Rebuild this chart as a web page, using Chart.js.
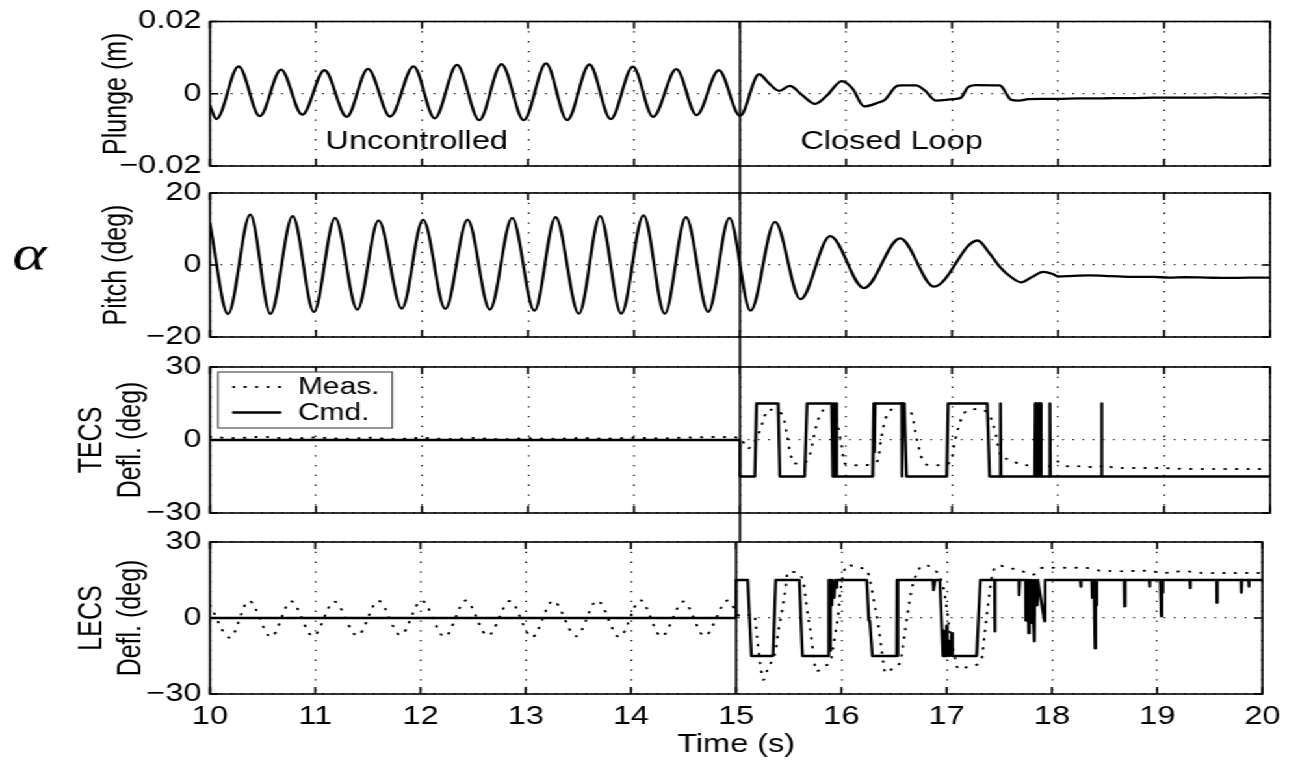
<!DOCTYPE html>
<html>
<head>
<meta charset="utf-8">
<title>Flutter suppression: uncontrolled vs closed loop</title>
<script src="https://cdn.jsdelivr.net/npm/chart.js@4.4.1/dist/chart.umd.min.js"></script>
<style>
  html, body { margin: 0; padding: 0; background: #fff; overflow: hidden; }
  #stage { position: absolute; left: 0; top: 0; width: 993px; height: 761px;
           transform: scaleX(1.3); transform-origin: 0 0; background: #fff; }
  #stage canvas { position: absolute; left: 0; top: 0; }
</style>
</head>
<body>
<div id="stage">
  <canvas id="plunge" width="993" height="761"></canvas>
  <canvas id="pitch" width="993" height="761"></canvas>
  <canvas id="tecs" width="993" height="761"></canvas>
  <canvas id="lecs" width="993" height="761"></canvas>
</div>
<script>
// ---------------- data ----------------
const timeTicks = [10, 11, 12, 13, 14, 15, 16, 17, 18, 19, 20];
const plungeTicks = [-0.02, 0, 0.02];
const pitchTicks = [-20, 0, 20];
const deflTicks = [-30, 0, 30];
const switchTime = 15;   // controller switched on

// plunge (m)
const plungeTime = [10.00, 10.06, 10.27, 10.47, 10.67, 10.87, 11.08, 11.29, 11.49, 11.70,
  11.92, 12.12, 12.33, 12.54, 12.75, 12.96, 13.17, 13.37, 13.58, 13.78, 13.99, 14.18,
  14.40, 14.59, 14.80, 15.00, 15.18, 15.27, 15.37, 15.47, 15.58, 15.71, 15.82, 15.96,
  16.06, 16.17, 16.30, 16.37, 16.47, 16.52, 16.66, 16.74, 16.85, 17.01, 17.08, 17.15,
  17.22, 17.45, 17.56, 17.63, 17.72, 17.85, 18.00, 18.20, 18.40, 18.53, 18.70, 18.90,
  19.07, 19.30, 19.50, 19.70, 19.90, 20.00];
const plungeValue = [-0.0033, -0.0070, 0.0076, -0.0062, 0.0067, -0.0058, 0.0065, -0.0064, 0.0069, -0.0063,
  0.0076, -0.0068, 0.0080, -0.0073, 0.0082, -0.0073, 0.0084, -0.0073, 0.0081, -0.0070, 0.0075, -0.0064,
  0.0068, -0.0059, 0.0065, -0.0061, 0.0054, 0.0030, 0.0008, 0.0022, -0.0002, -0.0028, -0.0005, 0.0035,
  0.0015, -0.0035, -0.0025, -0.0016, 0.0020, 0.0023, 0.0023, 0.0010, -0.0019, -0.0015, -0.0012, 0.0018,
  0.0024, 0.0023, -0.0017, -0.0019, -0.0015, -0.0014, -0.0014, -0.0013, -0.0013, -0.0012, -0.0012, -0.0011,
  -0.0011, -0.0011, -0.0010, -0.0011, -0.0010, -0.0011];

// pitch (deg)
const pitchTime = [10.00, 10.17, 10.38, 10.57, 10.78, 10.98, 11.18, 11.39, 11.59, 11.81,
  12.01, 12.22, 12.43, 12.64, 12.85, 13.06, 13.26, 13.48, 13.68, 13.88, 14.09, 14.29,
  14.49, 14.70, 14.90, 15.10, 15.33, 15.57, 15.85, 16.17, 16.51, 16.83, 17.24, 17.36,
  17.45, 17.55, 17.65, 17.75, 17.86, 17.95, 18.00, 18.15, 18.30, 18.50, 18.70, 18.90,
  19.05, 19.20, 19.40, 19.60, 19.80, 20.00];
const pitchValue = [11.5, -13.6, 14.0, -13.6, 13.6, -13.0, 13.1, -12.4, 12.4, -12.1,
  12.6, -12.2, 12.6, -12.4, 13.1, -12.7, 13.3, -13.5, 13.6, -13.5, 13.8, -13.5,
  13.3, -13.0, 13.1, -12.7, 12.0, -9.5, 8.0, -6.4, 7.4, -6.0, 6.8, 3.0,
  -0.5, -3.2, -4.8, -3.4, -1.9, -2.5, -3.2, -3.0, -2.9, -3.1, -3.3, -3.3,
  -3.5, -3.4, -3.5, -3.6, -3.5, -3.5];

// trailing-edge control surface (deg)
const tecsCmdTime = [10.00, 15.00, 15.00, 15.14, 15.156, 15.36, 15.376, 15.61, 15.632, 15.865,
  15.875, 15.885, 15.895, 15.905, 15.912, 16.252, 16.262, 16.268, 16.275, 16.525, 16.528, 16.532,
  16.55, 16.57, 16.95, 16.963, 17.332, 17.354, 17.455, 17.457, 17.462, 17.78, 17.785, 17.79,
  17.80, 17.805, 17.82, 17.826, 17.835, 17.84, 17.92, 17.923, 17.928, 18.408, 18.41, 18.415, 20.00];
const tecsCmdValue = [0, 0, -15, -15, 15, 15, -15, -15, 15, 15,
  -15, 15, -15, 15, -15, -15, 15, -5, 15, 15, -15, 15,
  15, -15, -15, 15, 15, -15, -15, 15, -15, -15, 15, -15,
  15, -15, 15, -15, 15, -15, -15, 15, -15, -15, 15, -15, -15];
const tecsMeasTime = [10.00, 10.25, 10.50, 10.75, 11.00, 11.25, 11.50, 11.75, 12.00, 12.25,
  12.50, 12.75, 13.00, 13.25, 13.50, 13.75, 14.00, 14.25, 14.50, 14.75, 15.00, 15.07, 15.13,
  15.18, 15.22, 15.26, 15.40, 15.44, 15.47, 15.51, 15.58, 15.66, 15.69, 15.73, 15.80, 15.89,
  15.95, 15.99, 16.06, 16.14, 16.30, 16.33, 16.37, 16.45, 16.61, 16.67, 16.72, 16.80, 16.90,
  16.99, 17.03, 17.09, 17.16, 17.25, 17.36, 17.41, 17.44, 17.48, 17.54, 17.63, 17.72, 17.95,
  18.00, 18.09, 18.20, 18.30, 18.39, 18.44, 18.53, 18.80, 19.00, 19.30, 19.70, 20.00];
const tecsMeasValue = [1.2, 0.8, 1.3, 0.6, 1.0, 0.5, 0.9, 0.4, 0.9, 0.4,
  0.8, 0.3, 0.7, 0.5, 0.8, 0.6, 0.9, 0.7, 1.0, 1.2, 1.0, -3.6, -1.0,
  3.0, 8.0, 12.5, 10.5, 3.0, -4.5, -9.7, -9.7, -6.0, 0.0, 7.5, 12.5, 10.8,
  0.0, -9.7, -10.4, -10.4, -8.5, 0.0, 8.5, 12.7, 11.5, 0.0, -8.0, -10.4, -10.4,
  -8.5, 0.0, 9.0, 12.5, 12.7, 9.5, 3.0, -3.6, -7.7, -7.7, -9.9, -10.4, -10.8,
  -8.8, -10.8, -10.8, -11.1, -11.1, -10.0, -11.5, -11.5, -11.6, -11.9, -11.9, -11.9];

// leading-edge control surface (deg)
const lecsCmdTime = [10.00, 15.00, 15.00, 15.11, 15.145, 15.35, 15.376, 15.60, 15.63, 15.874,
  15.88, 15.89, 15.895, 15.905, 15.91, 15.93, 15.94, 15.956, 15.96, 16.241, 16.26, 16.27,
  16.294, 16.525, 16.528, 16.532, 16.54, 16.87, 16.875, 16.885, 16.89, 16.935, 16.965, 16.97,
  16.975, 16.98, 16.99, 17.00, 17.005, 17.02, 17.03, 17.05, 17.055, 17.285, 17.32, 17.455,
  17.457, 17.46, 17.685, 17.688, 17.695, 17.75, 17.752, 17.758, 17.765, 17.77, 17.78, 17.785,
  17.80, 17.81, 17.833, 17.838, 17.86, 17.865, 17.93, 17.935, 18.27, 18.272, 18.28, 18.38,
  18.383, 18.39, 18.40, 18.41, 18.415, 18.42, 18.423, 18.43, 18.687, 18.69, 18.695, 18.925,
  18.928, 18.932, 19.03, 19.039, 19.045, 19.05, 19.055, 19.31, 19.312, 19.318, 19.566, 19.568,
  19.572, 19.797, 19.80, 19.805, 19.868, 19.87, 19.875, 20.00];
const lecsCmdValue = [0, 0, 15, 15, -15, -15, 15, 15, -15, -15,
  15, -13, 15, 5, 15, 8, 15, 12, 15, 15, -1, -1,
  -15, -15, 15, -15, 15, 15, 11, 11, 15, 15, -15, -5,
  -15, -8, -15, -3, -15, -9, -15, -6, -15, -15, 15, 15,
  -5.3, 15, 15, 9, 15, 15, -1, 15, 3, 15, -6, 15,
  -2, 15, -9.2, 15, 5, 15, -1.3, 15, 15, 12.4, 15, 15,
  8, 15, 15, -12, 15, 15, 5, 15, 15, 4.6, 15, 15,
  12.4, 15, 15, 0.7, 15, 10, 15, 15, 11.8, 15, 15, 6,
  15, 15, 10, 15, 15, 12.4, 15, 15];
const lecsMeasTime = [10.00, 10.19, 10.37, 10.58, 10.77, 10.98, 11.18, 11.40, 11.60, 11.81,
  12.01, 12.23, 12.43, 12.64, 12.85, 13.06, 13.26, 13.48, 13.68, 13.89, 14.09, 14.29,
  14.50, 14.70, 14.92, 15.04, 15.17, 15.20, 15.23, 15.26, 15.30, 15.38, 15.40, 15.43,
  15.45, 15.47, 15.49, 15.56, 15.64, 15.66, 15.69, 15.71, 15.74, 15.76, 15.83, 15.90,
  15.92, 15.94, 15.97, 15.99, 16.03, 16.06, 16.15, 16.24, 16.28, 16.31, 16.35, 16.38,
  16.42, 16.49, 16.56, 16.60, 16.63, 16.67, 16.72, 16.77, 16.90, 16.97, 17.00, 17.02,
  17.04, 17.08, 17.11, 17.22, 17.33, 17.36, 17.39, 17.43, 17.50, 17.57, 17.68, 17.82,
  17.91, 18.04, 18.18, 18.32, 18.46, 18.71, 18.89, 19.07, 19.25, 19.43, 19.67, 20.00];
const lecsMeasValue = [5.0, -7.8, 6.8, -7.5, 6.6, -7.2, 6.5, -7.0, 6.8, -6.8,
  6.9, -7.4, 6.9, -7.0, 6.7, -7.6, 6.8, -7.2, 6.9, -7.5, 7.0, -7.3,
  6.5, -7.1, 6.9, 0.7, 1.5, -8.0, -18.5, -24.4, -20.0, -11.9, -5.3, 1.3,
  6.6, 11.9, 18.2, 18.1, 13.8, 7.9, -1.3, -6.0, -16.5, -21.1, -19.1, -16.5,
  -11.9, -6.6, 1.3, 10.5, 19.1, 21.1, 19.8, 19.1, 13.2, 6.6, -2.6, -11.9,
  -21.8, -19.8, -17.1, -6.6, 2.0, 11.9, 17.8, 20.8, 18.5, 11.9, 4.0, -2.6,
  -7.9, -15.8, -20.2, -19.1, -16.5, -6.6, 4.0, 16.5, 20.8, 19.8, 19.1, 17.1,
  19.8, 19.8, 19.8, 19.8, 18.7, 18.5, 18.7, 17.8, 18.5, 17.8, 17.8, 17.8];

const phaseLabels = ['Uncontrolled', 'Closed Loop'];

// ---------------- layout ----------------
const SX = 1.3;                 // horizontal stretch applied to the stage
const W = 993, H = 761;         // logical canvas size
const plotLeft = 161.5, plotRight = 977;
const panels = {
  plunge: { top: 16,  bottom: 166 },
  pitch:  { top: 193, bottom: 337 },
  tecs:   { top: 367, bottom: 513 },
  lecs:   { top: 542, bottom: 694 }
};
const order = ['plunge', 'pitch', 'tecs', 'lecs'];
const phaseLabelAt = [{ t: 11.95, v: -0.0152 }, { t: 16.43, v: -0.0152 }];

const FONT = "'Liberation Sans', Arial, Helvetica, sans-serif";
Chart.defaults.font.family = FONT;
Chart.defaults.color = '#000';

const pts = (t, v) => t.map((x, i) => ({ x, y: v[i] }));

const solid = (label, data, smooth) => ({
  label, data, borderColor: '#000', borderWidth: 2.3, pointRadius: 0,
  tension: 0, cubicInterpolationMode: smooth ? 'monotone' : 'default',
  borderJoinStyle: 'round', borderCapStyle: 'round', fill: false
});
const dotted = (label, data) => ({
  label, data, borderColor: '#000', borderWidth: 2.0, pointRadius: 0,
  tension: 0, cubicInterpolationMode: 'monotone',
  borderDash: [0.6, 8.2], borderCapStyle: 'round', fill: false
});

// frame box, inward tick marks and the switch-time line
const framePlugin = {
  id: 'frame',
  afterDatasetsDraw(chart, args, opts) {
    const { ctx, chartArea: a, scales: { x } } = chart;
    const px = x.getPixelForValue(switchTime);
    ctx.save();
    ctx.strokeStyle = '#000';
    ctx.lineWidth = 1.8;
    ctx.beginPath();
    ctx.moveTo(px, a.top);
    ctx.lineTo(px, opts.lineEnd);
    ctx.stroke();
    ctx.restore();
  },
  afterDraw(chart) {
    const { ctx, chartArea: a, scales: { x, y } } = chart;
    ctx.save();
    ctx.strokeStyle = '#000';
    ctx.lineWidth = 1.6;
    ctx.strokeRect(a.left, a.top, a.width, a.height);
    ctx.beginPath();
    const L = 7;
    x.ticks.forEach(t => {
      const p = x.getPixelForValue(t.value);
      ctx.moveTo(p, a.bottom); ctx.lineTo(p, a.bottom - L);
      ctx.moveTo(p, a.top); ctx.lineTo(p, a.top + L);
    });
    y.ticks.forEach(t => {
      const p = y.getPixelForValue(t.value);
      ctx.moveTo(a.left, p); ctx.lineTo(a.left + L / SX * 1.2, p);
      ctx.moveTo(a.right, p); ctx.lineTo(a.right - L / SX * 1.2, p);
    });
    ctx.stroke();
    ctx.restore();
  }
};

// phase annotations inside the plunge panel
const phasePlugin = {
  id: 'phases',
  afterDraw(chart) {
    const { ctx, scales: { x, y } } = chart;
    ctx.save();
    ctx.fillStyle = '#000';
    ctx.font = '25px ' + FONT;
    ctx.textAlign = 'center';
    ctx.textBaseline = 'alphabetic';
    phaseLabels.forEach((txt, i) => {
      ctx.fillText(txt, x.getPixelForValue(phaseLabelAt[i].t), y.getPixelForValue(phaseLabelAt[i].v));
    });
    ctx.restore();
  }
};

// angle-of-attack symbol beside the pitch panel
const alphaPlugin = {
  id: 'alpha',
  afterDraw(chart) {
    const { ctx, chartArea: a } = chart;
    ctx.save();
    ctx.fillStyle = '#000';
    ctx.font = "italic 50px 'Liberation Serif', 'Times New Roman', serif";
    ctx.textAlign = 'center';
    ctx.textBaseline = 'middle';
    ctx.fillText('\u03B1', 22.5, (a.top + a.bottom) / 2 - 8);
    ctx.restore();
  }
};

// boxed legend in the upper-left corner of the TECS panel
const boxLegendPlugin = {
  id: 'boxLegend',
  afterDraw(chart) {
    const { ctx, chartArea: a } = chart;
    const bx = a.left + 6.2, by = a.top + 5, bw = 134, bh = 56;
    ctx.save();
    ctx.fillStyle = '#fff';
    ctx.fillRect(bx, by, bw, bh);
    ctx.strokeStyle = '#444';
    ctx.lineWidth = 1.1;
    ctx.strokeRect(bx, by, bw, bh);
    ctx.font = '23px ' + FONT;
    ctx.textAlign = 'left';
    ctx.textBaseline = 'middle';
    chart.data.datasets.forEach((ds, i) => {
      const ry = by + 15 + i * 25.5;
      ctx.strokeStyle = ds.borderColor;
      ctx.lineWidth = ds.borderWidth;
      ctx.lineCap = ds.borderCapStyle || 'butt';
      ctx.setLineDash(ds.borderDash || []);
      ctx.beginPath();
      ctx.moveTo(a.left + 18, ry);
      ctx.lineTo(a.left + 54, ry);
      ctx.stroke();
      ctx.setLineDash([]);
      ctx.fillStyle = '#000';
      ctx.fillText(ds.label, a.left + 67.7, ry + 1);
    });
    ctx.restore();
  }
};

function fmtPlunge(v) {
  if (Math.abs(v) < 1e-9) return '0';
  return (v < 0 ? '\u2212' : '') + Math.abs(v).toFixed(2);
}
function fmtInt(v) {
  if (Math.abs(v) < 1e-9) return '0';
  return (v < 0 ? '\u2212' : '') + Math.abs(Math.round(v));
}

function makePanel(key, datasets, yTicks, yTitle, titlePad, fmt, extra) {
  const p = panels[key];
  const idx = order.indexOf(key);
  const next = panels[order[idx + 1]];
  const isBottom = !next;
  const xAxisH = isBottom ? H - p.bottom : 0;
  return new Chart(document.getElementById(key), {
    type: 'line',
    data: { datasets },
    options: {
      responsive: false,
      animation: false,
      devicePixelRatio: 1,
      events: [],
      layout: { padding: { left: 0, right: W - plotRight, top: p.top, bottom: H - p.bottom - xAxisH } },
      plugins: {
        legend: { display: false },
        tooltip: { enabled: false },
        frame: { lineEnd: next ? next.top : p.bottom }
      },
      scales: {
        x: {
          type: 'linear', min: timeTicks[0], max: timeTicks[timeTicks.length - 1],
          afterBuildTicks: s => { s.ticks = timeTicks.map(v => ({ value: v })); },
          afterFit: s => { s.height = xAxisH; },
          grid: { color: '#111', lineWidth: 1.3, drawTicks: false },
          border: { display: false, dash: [1.3, 8.5] },
          ticks: { display: isBottom, padding: 8, font: { size: 25 }, color: '#000',
                   maxRotation: 0, autoSkip: false, callback: v => String(v) },
          title: { display: isBottom, text: 'Time (s)', font: { size: 25 }, color: '#000',
                   padding: { top: 0, bottom: 1 } }
        },
        y: {
          type: 'linear', min: yTicks[0], max: yTicks[yTicks.length - 1],
          afterBuildTicks: s => { s.ticks = yTicks.map(v => ({ value: v })); },
          afterFit: s => { s.width = plotLeft; },
          grid: { color: '#111', lineWidth: 1.3, drawTicks: false },
          border: { display: false, dash: [1.2, 6.6] },
          ticks: { padding: 6.5, font: { size: 25 }, color: '#000', autoSkip: false,
                   callback: v => fmt(v) },
          title: { display: true, text: yTitle, font: { size: 25, lineHeight: 1.2 }, color: '#000',
                   padding: { top: titlePad, bottom: 0 } }
        }
      }
    },
    plugins: [framePlugin].concat(extra || [])
  });
}

makePanel('plunge', [solid('Plunge', pts(plungeTime, plungeValue), true)],
  plungeTicks, 'Plunge (m)', 75, fmtPlunge, [phasePlugin]);
makePanel('pitch', [solid('Pitch', pts(pitchTime, pitchValue), true)],
  pitchTicks, 'Pitch (deg)', 75, fmtInt, [alphaPlugin]);
makePanel('tecs', [dotted('Meas.', pts(tecsMeasTime, tecsMeasValue)),
                   solid('Cmd.', pts(tecsCmdTime, tecsCmdValue), false)],
  deflTicks, ['TECS', 'Defl. (deg)'], 56.5, fmtInt, [boxLegendPlugin]);
makePanel('lecs', [dotted('Meas.', pts(lecsMeasTime, lecsMeasValue)),
                   solid('Cmd.', pts(lecsCmdTime, lecsCmdValue), false)],
  deflTicks, ['LECS', 'Defl. (deg)'], 56.5, fmtInt, []);
</script>
</body>
</html>
